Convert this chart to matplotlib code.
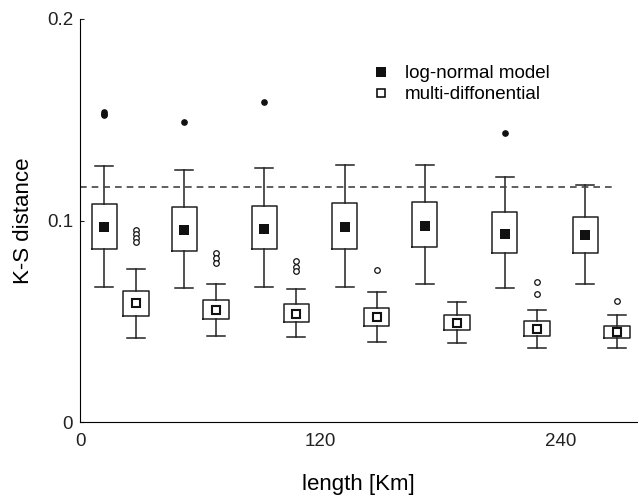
import numpy as np
import matplotlib.pyplot as plt
from matplotlib.lines import Line2D

plt.rcParams['font.family'] = ['Liberation Sans', 'DejaVu Sans']

# box statistics, one entry per length group
lengths = np.arange(7)
pos_log = 12 + 40 * lengths
pos_multi = 28 + 40 * lengths

# log-normal model
log_whislo = [0.0670, 0.0667, 0.0670, 0.0670, 0.0683, 0.0667, 0.0685]
log_q1 = [0.0859, 0.0850, 0.0857, 0.0860, 0.0870, 0.0839, 0.0839]
log_mean = [0.0969, 0.0953, 0.0958, 0.0969, 0.0974, 0.0933, 0.0928]
log_q3 = [0.1082, 0.1065, 0.1074, 0.1087, 0.1090, 0.1042, 0.1019]
log_whishi = [0.1272, 0.1250, 0.1260, 0.1277, 0.1277, 0.1218, 0.1175]
log_fliers = [[0.1538, 0.1530, 0.1524], [0.1490], [0.1588], [], [], [0.1433], []]

# multi-diffonential
mul_whislo = [0.0419, 0.0427, 0.0420, 0.0399, 0.0392, 0.0367, 0.0367]
mul_q1 = [0.0526, 0.0510, 0.0496, 0.0475, 0.0457, 0.0425, 0.0418]
mul_mean = [0.0592, 0.0556, 0.0538, 0.0520, 0.0493, 0.0460, 0.0447]
mul_q3 = [0.0652, 0.0604, 0.0584, 0.0566, 0.0531, 0.0500, 0.0478]
mul_whishi = [0.0759, 0.0686, 0.0658, 0.0644, 0.0594, 0.0557, 0.0531]
mul_fliers = [[0.0953, 0.0933, 0.0912, 0.0892], [0.0839, 0.0816, 0.0790],
              [0.0799, 0.0770, 0.0748], [0.0754], [], [0.0695, 0.0635], [0.0602]]

threshold = 0.1168


def make_stats(lo, q1, mean, q3, hi, fl):
    return [dict(whislo=a, q1=b, med=c, mean=c, q3=d, whishi=e, fliers=f)
            for a, b, c, d, e, f in zip(lo, q1, mean, q3, hi, fl)]


fig = plt.figure(figsize=(6.39, 4.96), dpi=100)
ax = fig.add_axes([0.1252, 0.149, 0.872, 0.8127])

box_style = dict(color='#222222', linewidth=1.1)
line_style = dict(color='#222222', linewidth=1.1)

ax.bxp(make_stats(log_whislo, log_q1, log_mean, log_q3, log_whishi, log_fliers),
       positions=pos_log, widths=12.5, capwidths=9, showmeans=True,
       boxprops=box_style, whiskerprops=line_style, capprops=line_style,
       medianprops=dict(linewidth=0),
       meanprops=dict(marker='s', markersize=7.3, markerfacecolor='#111111',
                      markeredgecolor='#111111', markeredgewidth=0),
       flierprops=dict(marker='o', markersize=3.8, markerfacecolor='#111111',
                       markeredgecolor='#111111'))

ax.bxp(make_stats(mul_whislo, mul_q1, mul_mean, mul_q3, mul_whishi, mul_fliers),
       positions=pos_multi, widths=12.8, capwidths=9, showmeans=True,
       boxprops=box_style, whiskerprops=line_style, capprops=line_style,
       medianprops=dict(linewidth=0),
       meanprops=dict(marker='s', markersize=5.5, markerfacecolor='white',
                      markeredgecolor='#111111', markeredgewidth=1.5),
       flierprops=dict(marker='o', markersize=4, markerfacecolor='white',
                       markeredgecolor='#111111', markeredgewidth=0.9))

ax.plot([0, 266], [threshold, threshold], linestyle=(0, (4, 3)), color='#444444', linewidth=1.2)

handles = [Line2D([], [], linestyle='none', marker='s', markersize=7.3,
                  markerfacecolor='#111111', markeredgecolor='#111111', markeredgewidth=0),
           Line2D([], [], linestyle='none', marker='s', markersize=6,
                  markerfacecolor='white', markeredgecolor='#111111', markeredgewidth=1.2)]
ax.legend(handles, ['log-normal model', 'multi-diffonential'], loc='upper left',
          bbox_to_anchor=(0.5235, 0.885), frameon=False, fontsize=13.5,
          handlelength=1.0, handletextpad=0.75, labelspacing=0.2, borderaxespad=0,
          borderpad=0)

ax.set_xlim(0, 278)
ax.set_ylim(0, 0.2)
ax.set_xticks([0, 120, 240])
ax.set_xticklabels(['0', '120', '240'])
ax.set_yticks([0, 0.1, 0.2])
ax.set_yticklabels(['0', '0.1', '0.2'])
ax.spines['top'].set_visible(False)
ax.spines['right'].set_visible(False)
ax.tick_params(axis='both', direction='in', length=3, labelsize=13.5, colors='#222222')
ax.tick_params(axis='y', pad=5)
ax.tick_params(axis='x', length=0, pad=8)
ax.set_xlabel('length [Km]', fontsize=16, labelpad=17)
ax.set_ylabel('K-S distance', fontsize=16, labelpad=9)

fig.savefig('out.png', dpi=100)
